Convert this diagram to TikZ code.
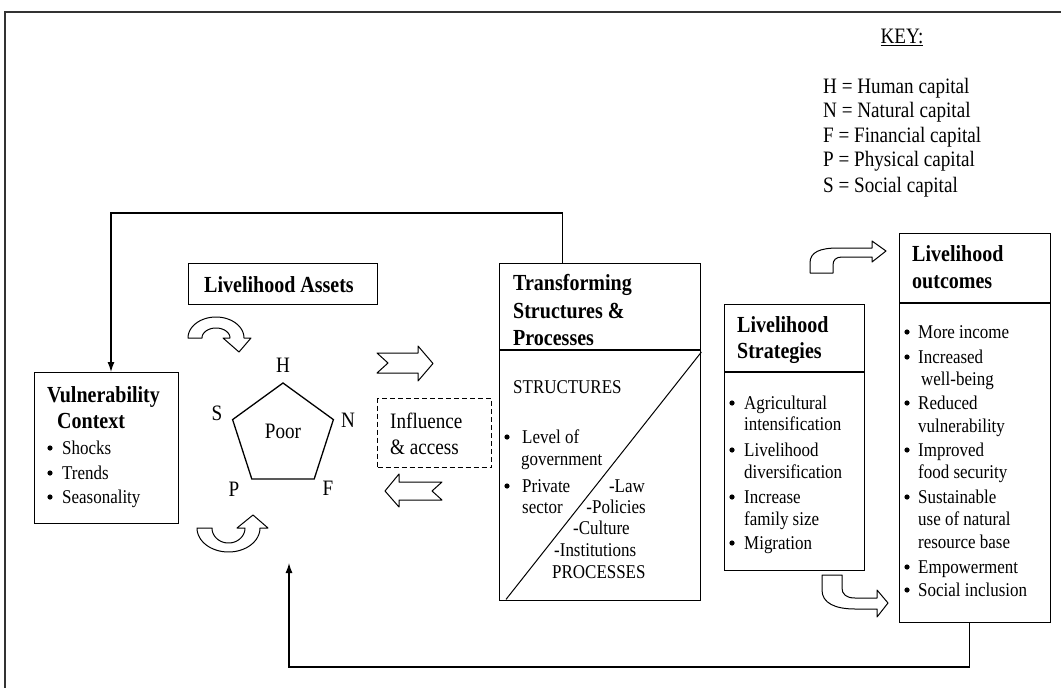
\documentclass[tikz,border=0pt]{standalone}
\usepackage{fontspec}
\setmainfont{Liberation Serif}[FakeStretch=0.87]
\usetikzlibrary{arrows.meta,calc}
\begin{document}
\begin{tikzpicture}[x=1pt,y=-1pt,
  box/.style={draw, line width=1.4pt, inner sep=0pt, anchor=north west},
  divline/.style={line width=1.4pt},
  txt/.style={inner sep=0pt, anchor=base west, font=\fontsize{19.5}{23}\selectfont},
  big/.style={inner sep=0pt, anchor=base west, font=\fontsize{22}{25}\selectfont},
  ttl/.style={inner sep=0pt, anchor=base west, font=\fontsize{23}{27}\selectfont\bfseries},
  bul/.style={circle, fill, inner sep=0pt, minimum size=5.2pt},
  blk/.style={draw, line width=1pt, fill=white, line join=round},
  conn/.style={line width=1.3pt},
  tipa/.style={-{Latex[length=10pt,width=7pt]}}
]
\useasboundingbox (0,0) rectangle (1061,688);
\clip (0,0) rectangle (1061,688);
\fill[white] (0,0) rectangle (1061,688);
% outer frame
\draw[line width=1.6pt, black!80] (5,700) -- (5,12) -- (1070,12);

% key
\node[big, anchor=base] (keyt) at (902,43) {\underline{KEY:}};
\foreach \yy/\tt [count=\i] in {93/H = Human capital, 117/N = Natural capital, 142/F = Financial capital, 166/P = Physical capital, 192/S = Social capital}
  {\node[big] (key\i) at (823,\yy) {\tt};}

% boxes
\node[box, minimum width=144pt, minimum height=151pt] (vul) at (34,372) {};
\node[box, minimum width=189pt, minimum height=41pt] (assets) at (188,263) {};
\node[box, dash pattern=on 5pt off 3pt, line width=1.2pt, minimum width=114pt, minimum height=69pt] (infl) at (377,398) {};
\node[box, minimum width=201pt, minimum height=337pt] (trans) at (499,263) {};
\node[box, minimum width=140pt, minimum height=266pt] (strat) at (724,304) {};
\node[box, minimum width=151pt, minimum height=389pt] (outc) at (899,233) {};

\draw[divline] ([yshift=-87pt]trans.north west) -- ([yshift=-87pt]trans.north east);
\draw[line width=1pt] ([xshift=7pt,yshift=2pt]trans.south west) -- ([yshift=-89pt]trans.north east);
\draw[divline] ([yshift=-68pt]strat.north west) -- ([yshift=-68pt]strat.north east);
\draw[divline] ([yshift=-70pt]outc.north west) -- ([yshift=-70pt]outc.north east);

% vulnerability text
\node[ttl] (vt1) at (47,402) {Vulnerability};
\node[ttl] (vt2) at (57,428) {Context};
\foreach \yy/\tt [count=\i] in {454/Shocks, 479/Trends, 503/Seasonality}
  {\node[txt] (vl\i) at (62,\yy) {\tt}; \node[bul] (vb\i) at (50,{\yy-6}) {};}

% assets
\node[ttl] (at) at (204,292) {Livelihood Assets};

% pentagon
\draw[line width=1.3pt, line join=miter] (283,383) -- (333.4,419.6) -- (314.2,479) -- (251.8,479) -- (232.6,419.6) -- cycle;
\node[big, anchor=base] (poor) at (283,438) {Poor};
\node[big, anchor=center] (lh) at (283,365) {H};
\node[big, anchor=center] (ln) at (348,420) {N};
\node[big, anchor=center] (ls) at (217,413) {S};
\node[big, anchor=center] (lp) at (234,489) {P};
\node[big, anchor=center] (lf) at (328,488) {F};

% curved block arrows around pentagon
\draw[blk] (188,338) -- plot[domain=180:360,samples=40] ({216+28*cos(\x)},{338+21*sin(\x)}) -- (251,338) -- (239,352) -- (223,338) -- plot[domain=360:180,samples=40] ({216+14*cos(\x)},{338+10*sin(\x)}) -- cycle;
\draw[blk] (197,528) -- plot[domain=180:0,samples=40] ({228.5+31.5*cos(\x)},{528+24*sin(\x)}) -- (268,528) -- (253,515) -- (237,528) -- plot[domain=0:180,samples=40] ({228.5+16.5*cos(\x)},{528+15*sin(\x)}) -- cycle;

% straight block arrows
\draw[blk] (377,353) -- (418,353) -- (418,346) -- (433,363.5) -- (418,381) -- (418,373) -- (377,373) -- (388,363) -- cycle;
\draw[blk] (442,482) -- (399,482) -- (399,474) -- (385,491) -- (399,507) -- (399,500) -- (442,500) -- (432,491) -- cycle;

% influence
\node[big] (i1) at (390,428) {Influence};
\node[big] (i2) at (390,454) {\& access};

% transforming
\node[ttl] (t1) at (513,290) {Transforming};
\node[ttl] (t2) at (513,318) {Structures \&};
\node[ttl] (t3) at (513,345) {Processes};
\node[txt] (st) at (513,393) {STRUCTURES};
\node[bul] (tb1) at (507,437) {};
\node[txt] (tl1) at (522,443) {Level of};
\node[txt] (tl2) at (521,465) {government};
\node[bul] (tb2) at (507,486) {};
\node[txt] (tl3) at (522,492) {Private};
\node[txt] (tl4) at (522,513) {sector};
\node[txt, anchor=base east] (pl1) at (645,492) {-Law};
\node[txt, anchor=base east] (pl2) at (646,513) {-Policies};
\node[txt] (pl3) at (573,534) {-Culture};
\node[txt] (pl4) at (554,556) {-Institutions};
\node[txt] (pl5) at (552,578) {PROCESSES};

% strategies
\node[ttl] (s1) at (737,332) {Livelihood};
\node[ttl] (s2) at (737,358) {Strategies};
\foreach \yy/\tt/\b [count=\i] in {409/Agricultural/1, 430/intensification/0, 456/Livelihood/1, 478/diversification/0, 503/Increase/1, 525/family size/0, 549/Migration/1}
  {\node[txt] (sl\i) at (744,\yy) {\tt}; \ifnum\b=1 \node[bul] (sb\i) at (732,{\yy-6}) {};\fi}

% outcomes
\node[ttl] (o1) at (912,261) {Livelihood};
\node[ttl] (o2) at (912,288) {outcomes};
\foreach \yy/\tt/\b [count=\i] in {338/More income/1, 363/Increased/1, 385/\hspace{3pt}well-being/0, 409/Reduced/1, 432/vulnerability/0, 456/Improved/1, 478/food security/0, 503/Sustainable/1, 525/use of natural/0, 548/resource base/0, 573/Empowerment/1, 596/Social inclusion/1}
  {\node[txt] (ol\i) at (918,\yy) {\tt}; \ifnum\b=1 \node[bul] (ob\i) at (907,{\yy-6}) {};\fi}

% right curved arrows
\draw[blk] (810,273) -- (810,263) .. controls (810,252) and (820,248) .. (838,248) -- (872,248) -- (872,241) -- (886,251) -- (872,262) -- (872,257) -- (842,257) .. controls (836,257) and (833,260) .. (833,265) -- (833,273) -- cycle;
\draw[blk] (822,575) -- (822,590) .. controls (822,603) and (835,609) .. (855,609) -- (877,609) -- (877,617) -- (888,603) -- (877,590) -- (877,598) -- (855,598) .. controls (846,598) and (842,594) .. (842,588) -- (842,575) -- cycle;

% feedback connectors
\coordinate (fbtl) at (111,213);
\draw[conn, tipa] ([xshift=-37.5pt]trans.north) |- (fbtl) -- (vul.north -| fbtl);
\coordinate (fbbl) at (289,667);
\coordinate (pentin) at (289,563);
\draw[conn, tipa] ([xshift=-5.5pt]outc.south) |- (fbbl) -- (pentin);
\end{tikzpicture}
\end{document}
